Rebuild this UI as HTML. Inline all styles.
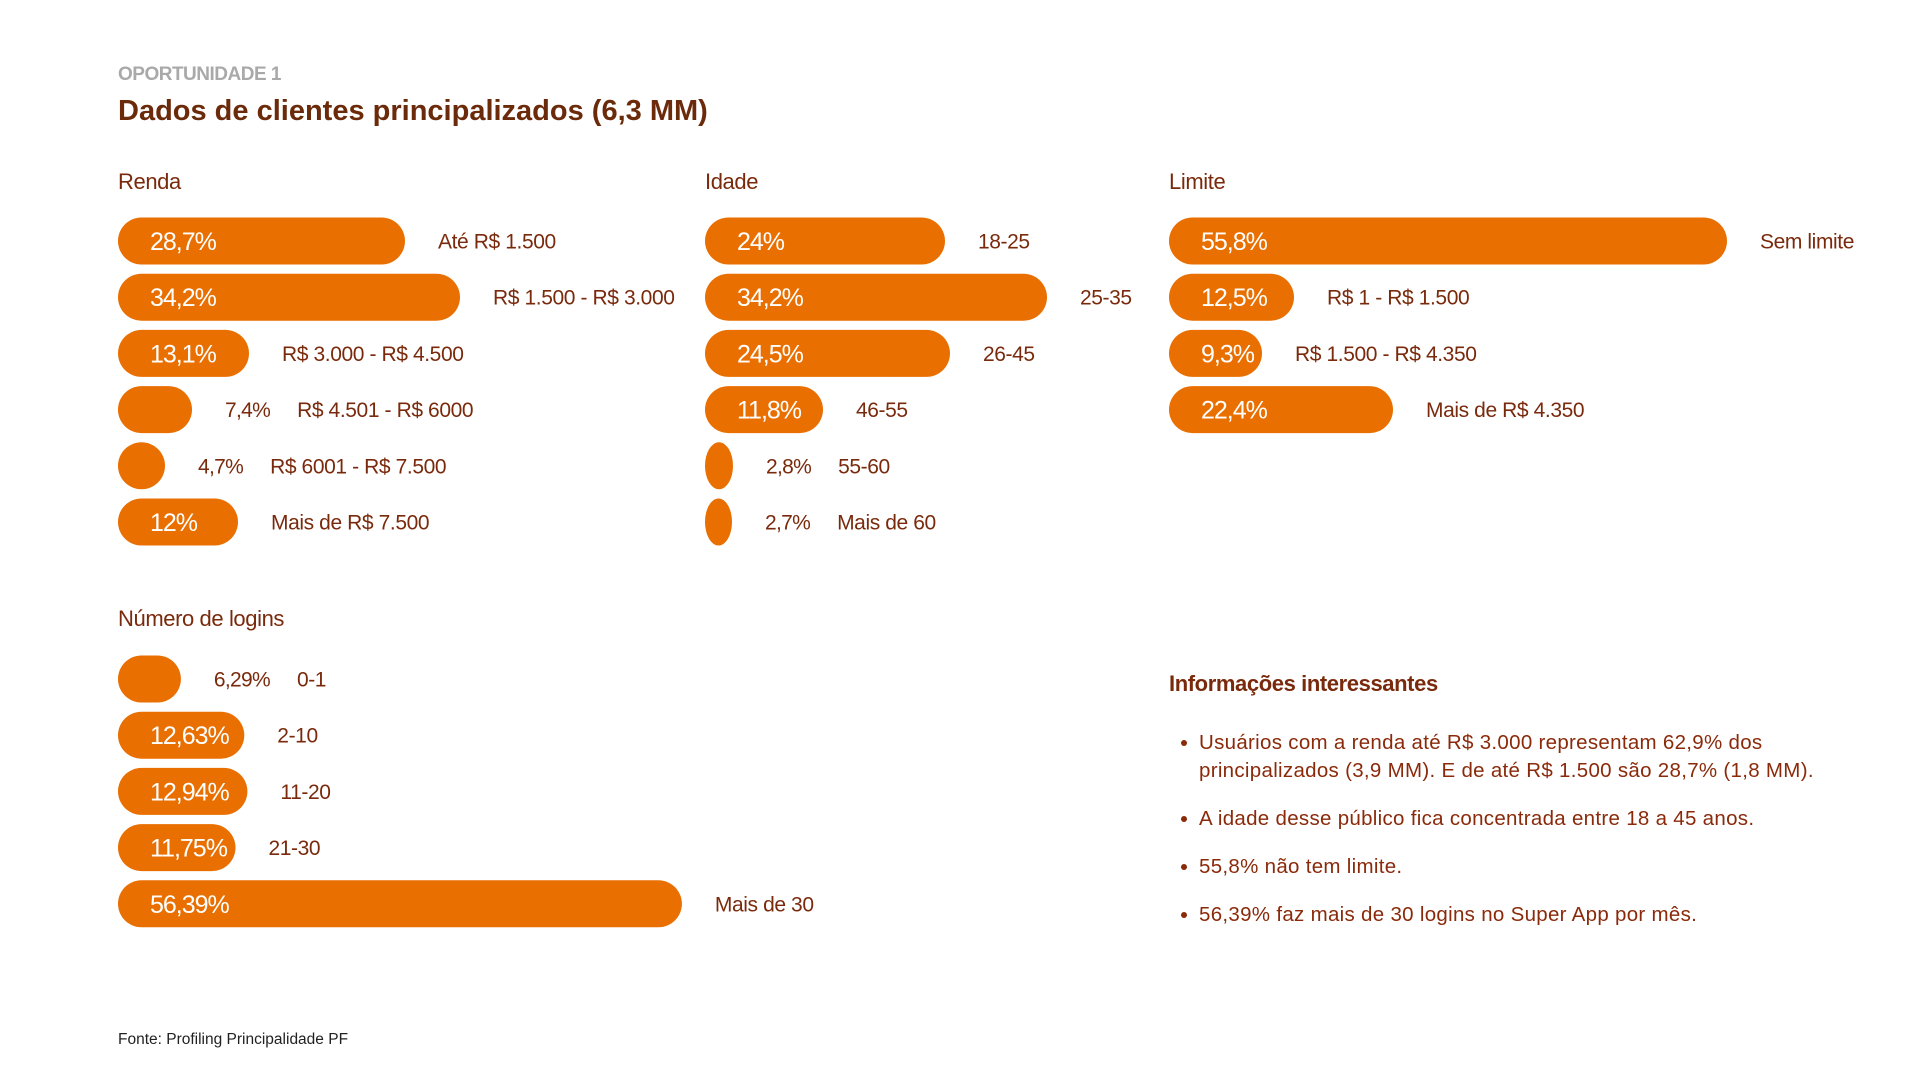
<!DOCTYPE html>
<html><head><meta charset="utf-8"><style>
html,body{margin:0;padding:0;background:#fff;}
body{width:1920px;height:1079px;overflow:hidden;font-family:"Liberation Sans",sans-serif;}
svg{display:block;}
</style></head><body>
<svg id="chart" width="1920" height="1079" viewBox="0 0 1920 1079" xmlns="http://www.w3.org/2000/svg">
<text x="118" y="80" font-size="19" font-weight="bold" fill="#a9a9a9" letter-spacing="-0.5">OPORTUNIDADE 1</text>
<text x="118" y="120" font-size="29" font-weight="bold" fill="#6b2a0a" letter-spacing="0">Dados de clientes principalizados (6,3 MM)</text>
<text x="118" y="189" font-size="22" fill="#7a2a0c" letter-spacing="-0.4">Renda</text>
<text x="705" y="189" font-size="22" fill="#7a2a0c" letter-spacing="-0.4">Idade</text>
<text x="1169" y="189" font-size="22" fill="#7a2a0c" letter-spacing="-0.4">Limite</text>
<text x="118" y="626" font-size="22" fill="#7a2a0c" letter-spacing="-0.4">Número de logins</text>
<g>
<text x="1169" y="691" font-size="22" font-weight="bold" fill="#7a2a0c" letter-spacing="-0.4">Informações interessantes</text>
<g font-size="20.5" fill="#8a2a0a" letter-spacing="0.3">
<circle cx="1184" cy="743" r="3" fill="#8a2a0a"/>
<text x="1199" y="749">Usuários com a renda até R$ 3.000 representam 62,9% dos</text>
<text x="1199" y="777">principalizados (3,9 MM). E de até R$ 1.500 são 28,7% (1,8 MM).</text>
<circle cx="1184" cy="819" r="3" fill="#8a2a0a"/>
<text x="1199" y="825">A idade desse público fica concentrada entre 18 a 45 anos.</text>
<circle cx="1184" cy="867" r="3" fill="#8a2a0a"/>
<text x="1199" y="873">55,8% não tem limite.</text>
<circle cx="1184" cy="915" r="3" fill="#8a2a0a"/>
<text x="1199" y="921">56,39% faz mais de 30 logins no Super App por mês.</text>
</g></g>
<text x="118" y="1044" font-size="15.5" fill="#222" letter-spacing="0">Fonte: Profiling Principalidade PF</text>
</svg>
<script>
const rendaCategories = ["Até R$ 1.500","R$ 1.500 - R$ 3.000","R$ 3.000 - R$ 4.500","R$ 4.501 - R$ 6000","R$ 6001 - R$ 7.500","Mais de R$ 7.500"];
const rendaValues = [28.7, 34.2, 13.1, 7.4, 4.7, 12];
const rendaLabels = ["28,7%","34,2%","13,1%","7,4%","4,7%","12%"];
const idadeCategories = ["18-25","25-35","26-45","46-55","55-60","Mais de 60"];
const idadeValues = [24, 34.2, 24.5, 11.8, 2.8, 2.7];
const idadeLabels = ["24%","34,2%","24,5%","11,8%","2,8%","2,7%"];
const limiteCategories = ["Sem limite","R$ 1 - R$ 1.500","R$ 1.500 - R$ 4.350","Mais de R$ 4.350"];
const limiteValues = [55.8, 12.5, 9.3, 22.4];
const limiteLabels = ["55,8%","12,5%","9,3%","22,4%"];
const loginsCategories = ["0-1","2-10","11-20","21-30","Mais de 30"];
const loginsValues = [6.29, 12.63, 12.94, 11.75, 56.39];
const loginsLabels = ["6,29%","12,63%","12,94%","11,75%","56,39%"];

const NS = "http://www.w3.org/2000/svg";
const svg = document.getElementById('chart');
const PX_PER_PCT = 10;
const BAR_H = 47, ROW = 56.2;
function xScale(v){ return v * PX_PER_PCT; }
function yScale(i, y0){ return y0 + i * ROW; }
function measure(t, size, ls){
  const tmp = document.createElementNS(NS,'text');
  tmp.setAttribute('font-size', size); tmp.setAttribute('letter-spacing', ls);
  tmp.setAttribute('font-family','Liberation Sans');
  tmp.textContent = t; svg.appendChild(tmp);
  const w = tmp.getComputedTextLength(); svg.removeChild(tmp); return w;
}
function drawChart(name, x0, y0, cats, vals, labels){
  const g = document.createElementNS(NS,'g');
  
  
  svg.appendChild(g);
  vals.forEach((v, i) => {
    const cy = yScale(i, y0) + 1;
    const w = Math.max(xScale(v), 26);
    const r = document.createElementNS(NS,'rect');
    r.setAttribute('x', x0); r.setAttribute('y', cy - BAR_H/2);
    r.setAttribute('width', w); r.setAttribute('height', BAR_H);
    r.setAttribute('rx', Math.min(BAR_H/2, w/2)); r.setAttribute('ry', BAR_H/2);
    r.setAttribute('fill', '#e96f00');
    
    
    g.appendChild(r);
    const inside = v >= 9;
    const pt = document.createElementNS(NS,'text');
    pt.setAttribute('font-size', inside ? 25 : 21);
    pt.setAttribute('letter-spacing', inside ? -1 : -0.7);
    pt.setAttribute('fill', inside ? '#ffffff' : '#7a2a0c');
    pt.setAttribute('y', cy + (inside ? 9 : 7.5));
    const px = inside ? x0 + 32 : x0 + w + 33;
    pt.setAttribute('x', px);
    pt.textContent = labels[i];
    
    
    g.appendChild(pt);
    const ct = document.createElementNS(NS,'text');
    ct.setAttribute('font-size', 21);
    ct.setAttribute('letter-spacing', -0.4);
    ct.setAttribute('fill', '#7a2a0c');
    ct.setAttribute('y', cy + 7.5);
    const cx = inside ? x0 + w + 33 : px + measure(labels[i], 21, -0.7) + 27;
    ct.setAttribute('x', cx);
    ct.textContent = cats[i];
    
    
    g.appendChild(ct);
  });
}
drawChart('renda', 118, 240, rendaCategories, rendaValues, rendaLabels);
drawChart('idade', 705, 240, idadeCategories, idadeValues, idadeLabels);
drawChart('limite', 1169, 240, limiteCategories, limiteValues, limiteLabels);
drawChart('logins', 118, 678, loginsCategories, loginsValues, loginsLabels);
</script>
</body></html>
